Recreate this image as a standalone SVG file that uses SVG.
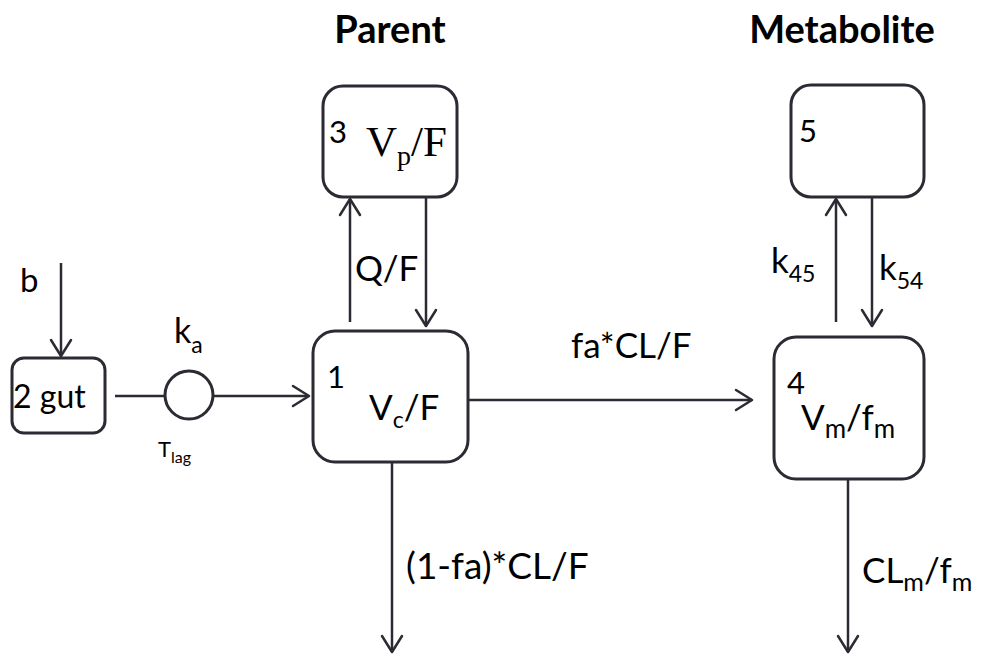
<svg xmlns="http://www.w3.org/2000/svg" width="983" height="655" viewBox="0 0 983 655">
  <defs>
    <marker id="open" viewBox="0 0 20 24" refX="18" refY="12" markerWidth="20" markerHeight="24" markerUnits="userSpaceOnUse" orient="auto">
      <path d="M2,2 L18,12 L2,22" fill="none" stroke="#2b2b33" stroke-width="2.5" stroke-linecap="round" stroke-linejoin="round"/>
    </marker>
  </defs>
  <style>
    .box { fill: #ffffff; stroke: #2b2b33; stroke-width: 3; }
    .wire { fill: none; stroke: #2b2b33; stroke-width: 2.5; }
    .arrow { fill: none; stroke: #2b2b33; stroke-width: 2.5; marker-end: url(#open); }
    text { font-family: Lato, "Open Sans", "Liberation Sans", sans-serif; fill: #000000; }
    .title { font-size: 38px; font-weight: bold; }
    .lbl { font-size: 35px; }
    .num { font-size: 31px; }
    .serif { font-family: "Liberation Serif", "DejaVu Serif", serif; font-size: 43px; }
  </style>
  <rect width="983" height="655" fill="#ffffff"/>

  <!-- headings -->
  <text class="title" x="390" y="43" text-anchor="middle">Parent</text>
  <text class="title" x="842" y="43" text-anchor="middle">Metabolite</text>

  <!-- connectors -->
  <g id="connectors">
    <line class="arrow" x1="61" y1="263" x2="61" y2="356"/>
    <line class="wire" x1="115" y1="396" x2="165" y2="396"/>
    <line class="arrow" x1="213" y1="396" x2="309" y2="396"/>
    <line class="arrow" x1="350" y1="322" x2="350" y2="199"/>
    <line class="arrow" x1="426" y1="198" x2="426" y2="326"/>
    <line class="arrow" x1="468" y1="400" x2="752" y2="400"/>
    <line class="arrow" x1="392" y1="462" x2="392" y2="652"/>
    <line class="arrow" x1="836" y1="322" x2="836" y2="199"/>
    <line class="arrow" x1="872" y1="198" x2="872" y2="326"/>
    <line class="arrow" x1="848" y1="479" x2="848" y2="652"/>

    <text x="20" y="292" font-size="33">b</text>
    <text class="lbl" x="355" y="281">Q/F</text>
    <text x="174" y="343" font-size="34">k<tspan font-size="23" dy="10">a</tspan></text>
    <text x="158" y="457" font-size="22">T<tspan font-size="16" dy="6">lag</tspan></text>
    <text class="lbl" x="571" y="358">fa*CL/F</text>
    <text x="406" y="579" font-size="37">(1-fa)*CL/F</text>
    <text class="lbl" x="771" y="273">k<tspan font-size="23" dy="9">45</tspan></text>
    <text class="lbl" x="879" y="280">k<tspan font-size="23" dy="9">54</tspan></text>
    <text class="lbl" x="862" y="583">CL<tspan font-size="25" dy="8">m</tspan><tspan dy="-8">/f</tspan><tspan font-size="25" dy="8">m</tspan></text>
  </g>

  <!-- absorption delay -->
  <g id="lag">
    <circle class="box" cx="189" cy="395" r="24" stroke-width="2.5"/>
  </g>

  <!-- compartment 2: gut -->
  <g id="gut">
    <rect class="box" x="12" y="358" width="93" height="75" rx="12"/>
    <text x="13" y="408" font-size="32">2 gut</text>
  </g>

  <!-- compartment 1: central -->
  <g id="central">
    <rect class="box" x="313" y="331" width="155" height="131" rx="22"/>
    <text class="num" x="327" y="388">1</text>
    <text class="lbl" x="369" y="420">V<tspan font-size="23" dy="8">c</tspan><tspan dy="-8">/F</tspan></text>
  </g>

  <!-- compartment 3: peripheral -->
  <g id="peripheral">
    <rect class="box" x="323" y="86" width="134" height="111" rx="20"/>
    <text class="num" x="329" y="143">3</text>
    <text class="serif" x="366" y="156">V<tspan font-size="28" dy="9">p</tspan><tspan dy="-9">/F</tspan></text>
  </g>

  <!-- compartment 4: metabolite central -->
  <g id="metabolite">
    <rect class="box" x="774" y="337" width="150" height="142" rx="22"/>
    <text class="num" x="787" y="394">4</text>
    <text class="lbl" x="801" y="430">V<tspan font-size="26" dy="8">m</tspan><tspan dy="-8">/f</tspan><tspan font-size="26" dy="8">m</tspan></text>
  </g>

  <!-- compartment 5: metabolite peripheral -->
  <g id="metabolite-peripheral">
    <rect class="box" x="791" y="85" width="133" height="112" rx="20"/>
    <text class="num" x="799" y="142">5</text>
  </g>
</svg>
